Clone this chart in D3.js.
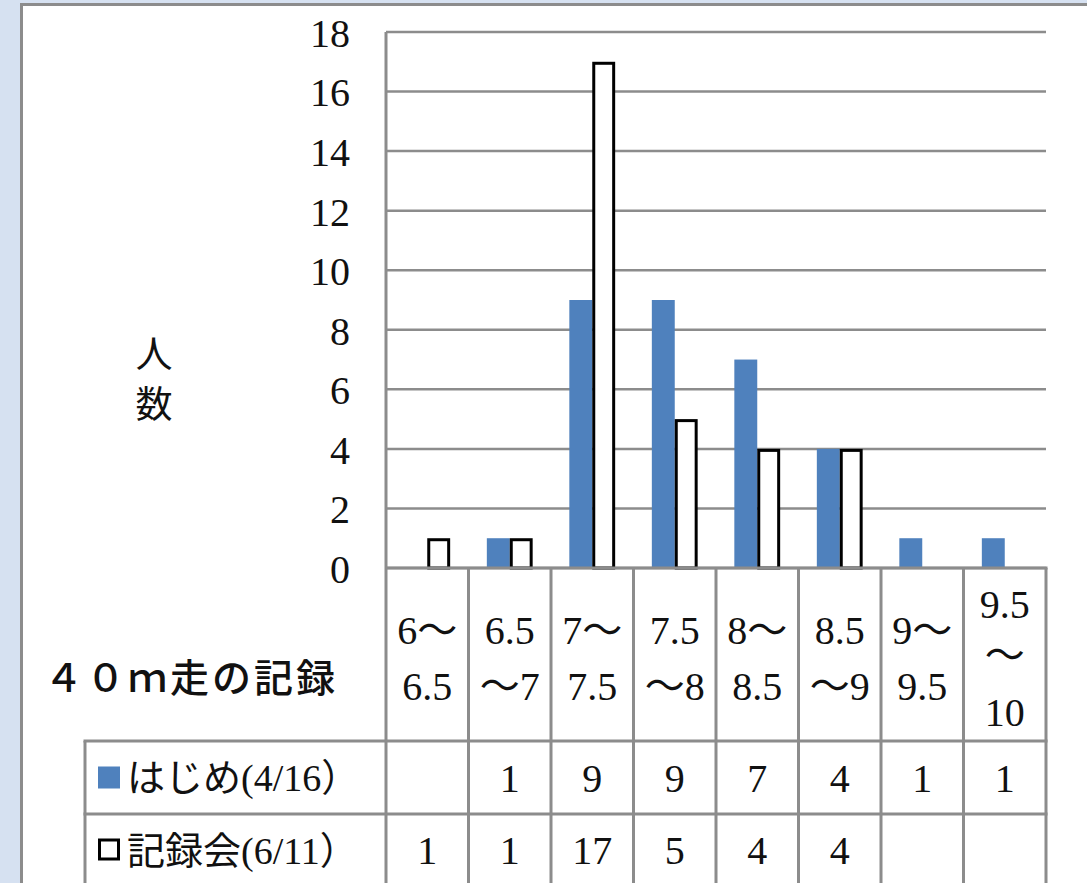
<!DOCTYPE html>
<html>
<head>
<meta charset="utf-8">
<script src="https://cdn.jsdelivr.net/npm/d3@7"></script>
<style>
  body { margin: 0; background: #d6e1f1; }
  svg { display: block; }
  text { font-family: "Liberation Serif", "DejaVu Serif", "Noto Sans CJK JP", serif; fill: #111; }
  .serif { font-family: "Liberation Serif", "DejaVu Serif", serif; }
  .cjk { font-family: "Noto Sans CJK JP", sans-serif; }
</style>
</head>
<body>
<svg id="chart" width="1087" height="883"></svg>
<script>
// categories (40m run time, seconds) – each label split into its display lines
const categories = ["6～6.5", "6.5～7", "7～7.5", "7.5～8", "8～8.5", "8.5～9", "9～9.5", "9.5～10"];
const categoryLines = [
  ["6～", "6.5"], ["6.5", "～7"], ["7～", "7.5"], ["7.5", "～8"],
  ["8～", "8.5"], ["8.5", "～9"], ["9～", "9.5"], ["9.5", "～", "10"]
];
const seriesNames = ["はじめ(4/16）", "記録会(6/11）"];
const firstValues = [null, 1, 9, 9, 7, 4, 1, 1];
const meetValues = [1, 1, 17, 5, 4, 4, null, null];
const yTicks = [0, 2, 4, 6, 8, 10, 12, 14, 16, 18];

const svg = d3.select("#chart");
const gridColor = "#8c8c8c";
const blue = "#4f81bd";

// split a string into runs: ASCII in serif, everything else in the CJK font
const addRuns = (sel, str) => {
  const runs = str.match(/[\x00-\x7f]+|[^\x00-\x7f]+/g) || [];
  runs.forEach(r => {
    sel.append("tspan")
      .attr("class", /^[\x00-\x7f]+$/.test(r) ? "serif" : "cjk")
      .text(r);
  });
};

// white panel with grey border
svg.append("rect")
  .attr("x", 21.5).attr("y", 4.5)
  .attr("width", 1100).attr("height", 900)
  .attr("fill", "#fff")
  .attr("stroke", gridColor)
  .attr("stroke-width", 3);

const plot = { left: 386, right: 1046, top: 32, bottom: 568 };
const table = { left: 85, row1: 741, row2: 814, bottom: 900 };

const x = d3.scaleBand().domain(categories).range([plot.left, plot.right]);
const xs = d3.scaleBand().domain([0, 1]).range([0, x.bandwidth()]).paddingOuter(0.8);
const y = d3.scaleLinear().domain([0, 18]).range([plot.bottom, plot.top]);

// gridlines
svg.append("g").selectAll("line")
  .data(yTicks)
  .join("line")
  .attr("x1", plot.left).attr("x2", plot.right)
  .attr("y1", d => y(d)).attr("y2", d => y(d))
  .attr("stroke", gridColor).attr("stroke-width", 2.5);

// y axis labels
const yAxis = svg.append("g")
  .attr("transform", `translate(${plot.left}, 0)`)
  .call(d3.axisLeft(y).tickValues(yTicks).tickSize(0).tickPadding(36));
yAxis.select(".domain").remove();
yAxis.selectAll("text")
  .attr("font-size", 40)
  .attr("font-family", "Liberation Serif, DejaVu Serif, serif")
  .attr("dy", "0.36em")
  .attr("fill", "#111");

// bars
const bars = svg.append("g");
bars.selectAll("rect.first")
  .data(firstValues.map((v, i) => ({ v, c: categories[i] })).filter(d => d.v != null))
  .join("rect")
  .attr("class", "first")
  .attr("x", d => x(d.c) + xs(0))
  .attr("width", xs.bandwidth())
  .attr("y", d => y(d.v))
  .attr("height", d => y(0) - y(d.v))
  .attr("fill", blue);

bars.selectAll("rect.meet")
  .data(meetValues.map((v, i) => ({ v, c: categories[i] })).filter(d => d.v != null))
  .join("rect")
  .attr("class", "meet")
  .attr("x", d => x(d.c) + xs(1) + 1.5)
  .attr("width", xs.bandwidth() - 3)
  .attr("y", d => y(d.v) + 1.5)
  .attr("height", d => y(0) - y(d.v) - 1.5)
  .attr("fill", "#fff")
  .attr("stroke", "#000")
  .attr("stroke-width", 3);

// y axis line + data table grid
const grid = svg.append("g").attr("stroke", gridColor).attr("stroke-width", 3);
const bounds = categories.map(c => x(c)).concat([plot.right]);
grid.selectAll("line.v")
  .data(bounds)
  .join("line")
  .attr("x1", d => d).attr("x2", d => d)
  .attr("y1", (d, i) => i === 0 ? plot.top : plot.bottom)
  .attr("y2", table.bottom);
grid.append("line")
  .attr("x1", table.left).attr("x2", table.left)
  .attr("y1", table.row1).attr("y2", table.bottom);
grid.selectAll("line.h")
  .data([table.row1, table.row2])
  .join("line")
  .attr("x1", table.left - 1.5).attr("x2", plot.right + 1.5)
  .attr("y1", d => d).attr("y2", d => d);
grid.append("line")
  .attr("x1", plot.left).attr("x2", plot.right + 1.5)
  .attr("y1", plot.bottom).attr("y2", plot.bottom);

// category labels inside the table
const catG = svg.append("g").attr("text-anchor", "middle").attr("font-size", 40);
categoryLines.forEach((lines, i) => {
  const cx = x(categories[i]) + x.bandwidth() / 2;
  const ys = lines.length === 3 ? [604, 655, 712] : [630, 686];
  lines.forEach((t, j) => {
    const tx = catG.append("text")
      .attr("x", cx).attr("y", ys[j])
      .attr("dy", "0.36em");
    addRuns(tx, t);
  });
});

// table values
const rowsY = [(table.row1 + table.row2) / 2, table.row2 + 36];
[firstValues, meetValues].forEach((vals, r) => {
  svg.append("g").attr("text-anchor", "middle").attr("font-size", 40)
    .selectAll("text")
    .data(vals.map((v, i) => ({ v, c: categories[i] })).filter(d => d.v != null))
    .join("text")
    .attr("class", "serif")
    .attr("x", d => x(d.c) + x.bandwidth() / 2)
    .attr("y", rowsY[r])
    .attr("dy", "0.36em")
    .text(d => d.v);
});

// legend keys in table rows
svg.append("rect")
  .attr("x", 98).attr("y", rowsY[0] - 11)
  .attr("width", 22).attr("height", 22)
  .attr("fill", blue);
svg.append("rect")
  .attr("x", 99.5).attr("y", rowsY[1] - 10)
  .attr("width", 19).attr("height", 19)
  .attr("fill", "#fff").attr("stroke", "#000").attr("stroke-width", 3);
seriesNames.forEach((name, r) => {
  const tx = svg.append("text")
    .attr("x", 127).attr("y", rowsY[r])
    .attr("dy", "0.36em")
    .attr("font-size", 38);
  addRuns(tx, name);
});

// titles
svg.append("text")
  .attr("class", "cjk")
  .attr("x", 44).attr("y", 678)
  .attr("dy", "0.36em")
  .attr("font-size", 39)
  .attr("font-weight", 500)
  .attr("letter-spacing", 3)
  .text("４０ｍ走の記録");

const yTitle = svg.append("g").attr("text-anchor", "middle").attr("font-size", 37);
["人", "数"].forEach((ch, i) => {
  yTitle.append("text")
    .attr("class", "cjk")
    .attr("x", 154).attr("y", 355 + i * 50)
    .attr("dy", "0.36em")
    .text(ch);
});
</script>
</body>
</html>
